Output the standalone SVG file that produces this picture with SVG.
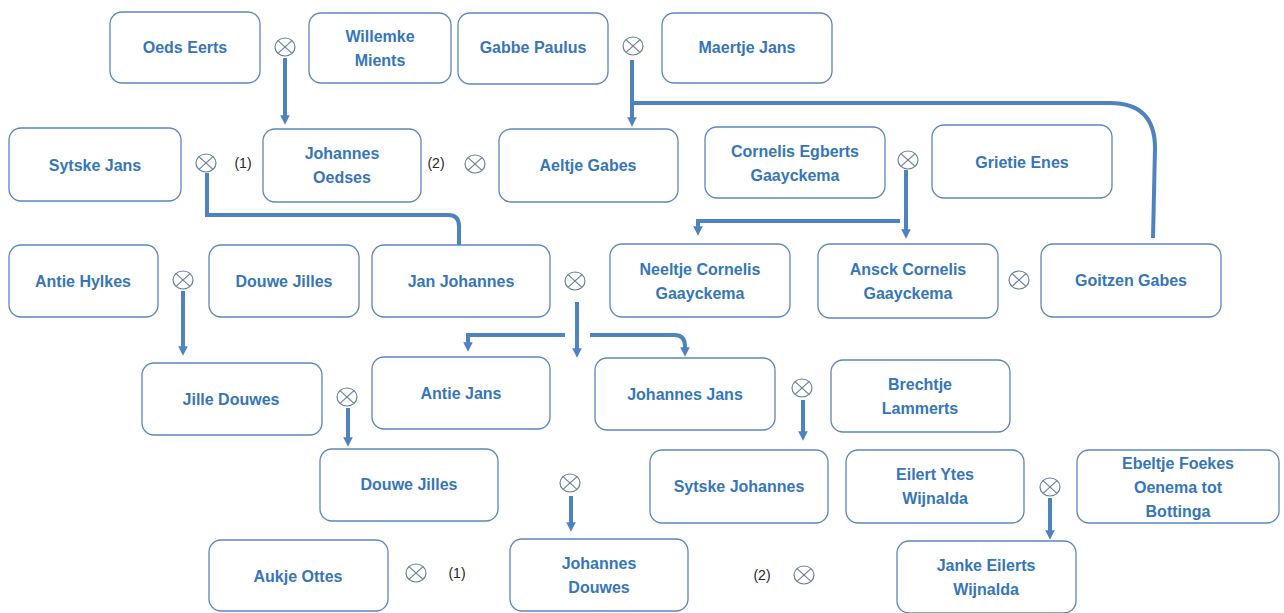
<svg xmlns="http://www.w3.org/2000/svg" width="1284" height="613" viewBox="0 0 1284 613">
<style>
.box{fill:#fff;stroke:#5b87bd;stroke-width:1.3}
.t{font-family:"Liberation Sans",Arial,sans-serif;font-weight:bold;font-size:16px;fill:#3676b8;text-anchor:middle}
.lbl{font-family:"Liberation Sans",Arial,sans-serif;font-size:14px;fill:#262626;text-anchor:middle}
.m ellipse{fill:#fff;stroke:#6a7f99;stroke-width:1.2}
.m line{stroke:#6a7f99;stroke-width:1.2}
.c{fill:none;stroke:#4f83bf;stroke-width:4}
</style>
<defs>
<marker id="ah" viewBox="0 0 10 10" refX="5" refY="5" markerWidth="2.4" markerHeight="2.4" orient="auto" markerUnits="strokeWidth">
<path d="M0,0 L10,5 L0,10 z" fill="#4f83bf"/>
</marker>
<g id="mx" class="m"><ellipse cx="0" cy="0" rx="10" ry="9"/><line x1="-7" y1="-6.4" x2="7" y2="6.4"/><line x1="-7" y1="6.4" x2="7" y2="-6.4"/></g>
</defs>

<g id="connectors">
<path class="c" d="M285,58 V120" marker-end="url(#ah)"/>
<path class="c" d="M632,60 V122" marker-end="url(#ah)"/>
<path class="c" d="M630,103 H1110 Q1155,103 1155,148 L1153,238"/>
<path class="c" d="M207,173 V215 H448 Q459,215 459,226 V246"/>
<path class="c" d="M906,170 V234" marker-end="url(#ah)"/>
<path class="c" d="M900,221 H698 V231" marker-end="url(#ah)"/>
<path class="c" d="M183,291 V351" marker-end="url(#ah)"/>
<path class="c" d="M577,302 V353" marker-end="url(#ah)"/>
<path class="c" d="M565,335 H468 V347" marker-end="url(#ah)"/>
<path class="c" d="M590,335 H674 Q685,335 685,346 V352" marker-end="url(#ah)"/>
<path class="c" d="M348,408 V442" marker-end="url(#ah)"/>
<path class="c" d="M803,400 V436" marker-end="url(#ah)"/>
<path class="c" d="M571,496 V527" marker-end="url(#ah)"/>
<path class="c" d="M1050,498 V535" marker-end="url(#ah)"/>
</g>

<g id="marriages">
<use href="#mx" x="285" y="47"/>
<use href="#mx" x="633" y="46"/>
<use href="#mx" x="206" y="163"/>
<use href="#mx" x="475" y="164"/>
<use href="#mx" x="908" y="160"/>
<use href="#mx" x="183" y="280"/>
<use href="#mx" x="575" y="281"/>
<use href="#mx" x="1019" y="280"/>
<use href="#mx" x="347" y="397"/>
<use href="#mx" x="802" y="388"/>
<use href="#mx" x="570" y="483"/>
<use href="#mx" x="1050" y="487"/>
<use href="#mx" x="416" y="573"/>
<use href="#mx" x="804" y="575"/>
</g>

<g id="labels">
<text class="lbl" x="243" y="168">(1)</text>
<text class="lbl" x="436" y="168">(2)</text>
<text class="lbl" x="457" y="578">(1)</text>
<text class="lbl" x="762" y="580">(2)</text>
</g>

<g id="n1"><rect class="box" x="110" y="12" width="150" height="71" rx="12"/><text class="t" x="185" y="53">Oeds Eerts</text></g>
<g id="n2"><rect class="box" x="309" y="13" width="142" height="70" rx="12"/><text class="t" x="380" y="42">Willemke</text><text class="t" x="380" y="66">Mients</text></g>
<g id="n3"><rect class="box" x="458" y="13" width="150" height="71" rx="12"/><text class="t" x="533" y="53">Gabbe Paulus</text></g>
<g id="n4"><rect class="box" x="662" y="13" width="170" height="70" rx="12"/><text class="t" x="747" y="53">Maertje Jans</text></g>
<g id="n5"><rect class="box" x="9" y="128" width="172" height="73" rx="12"/><text class="t" x="95" y="171">Sytske Jans</text></g>
<g id="n6"><rect class="box" x="263" y="129" width="158" height="73" rx="12"/><text class="t" x="342" y="159">Johannes</text><text class="t" x="342" y="183">Oedses</text></g>
<g id="n7"><rect class="box" x="499" y="129" width="179" height="73" rx="12"/><text class="t" x="588" y="171">Aeltje Gabes</text></g>
<g id="n8"><rect class="box" x="705" y="127" width="180" height="71" rx="12"/><text class="t" x="795" y="157">Cornelis Egberts</text><text class="t" x="795" y="181">Gaayckema</text></g>
<g id="n9"><rect class="box" x="932" y="125" width="180" height="73" rx="12"/><text class="t" x="1022" y="168">Grietie Enes</text></g>
<g id="n10"><rect class="box" x="9" y="245" width="149" height="72" rx="12"/><text class="t" x="83" y="287">Antie Hylkes</text></g>
<g id="n11"><rect class="box" x="209" y="245" width="150" height="72" rx="12"/><text class="t" x="284" y="287">Douwe Jilles</text></g>
<g id="n12"><rect class="box" x="372" y="245" width="178" height="72" rx="12"/><text class="t" x="461" y="287">Jan Johannes</text></g>
<g id="n13"><rect class="box" x="610" y="244" width="180" height="73" rx="12"/><text class="t" x="700" y="275">Neeltje Cornelis</text><text class="t" x="700" y="299">Gaayckema</text></g>
<g id="n14"><rect class="box" x="818" y="244" width="180" height="74" rx="12"/><text class="t" x="908" y="275">Ansck Cornelis</text><text class="t" x="908" y="299">Gaayckema</text></g>
<g id="n15"><rect class="box" x="1041" y="244" width="180" height="73" rx="12"/><text class="t" x="1131" y="286">Goitzen Gabes</text></g>
<g id="n16"><rect class="box" x="142" y="363" width="180" height="72" rx="12"/><text class="t" x="231" y="405">Jille Douwes</text></g>
<g id="n17"><rect class="box" x="372" y="357" width="178" height="72" rx="12"/><text class="t" x="461" y="399">Antie Jans</text></g>
<g id="n18"><rect class="box" x="595" y="358" width="180" height="72" rx="12"/><text class="t" x="685" y="400">Johannes Jans</text></g>
<g id="n19"><rect class="box" x="831" y="360" width="179" height="72" rx="12"/><text class="t" x="920" y="390">Brechtje</text><text class="t" x="920" y="414">Lammerts</text></g>
<g id="n20"><rect class="box" x="320" y="449" width="178" height="72" rx="12"/><text class="t" x="409" y="490">Douwe Jilles</text></g>
<g id="n21"><rect class="box" x="650" y="450" width="178" height="73" rx="12"/><text class="t" x="739" y="492">Sytske Johannes</text></g>
<g id="n22"><rect class="box" x="846" y="450" width="178" height="73" rx="12"/><text class="t" x="935" y="480">Eilert Ytes</text><text class="t" x="935" y="504">Wijnalda</text></g>
<g id="n23"><rect class="box" x="1077" y="450" width="202" height="73" rx="12"/><text class="t" x="1178" y="469">Ebeltje Foekes</text><text class="t" x="1178" y="493">Oenema tot</text><text class="t" x="1178" y="517">Bottinga</text></g>
<g id="n24"><rect class="box" x="209" y="540" width="179" height="71" rx="12"/><text class="t" x="298" y="582">Aukje Ottes</text></g>
<g id="n25"><rect class="box" x="510" y="539" width="178" height="72" rx="12"/><text class="t" x="599" y="569">Johannes</text><text class="t" x="599" y="593">Douwes</text></g>
<g id="n26"><rect class="box" x="897" y="541" width="179" height="72" rx="12"/><text class="t" x="986" y="571">Janke Eilerts</text><text class="t" x="986" y="595">Wijnalda</text></g>
</svg>
